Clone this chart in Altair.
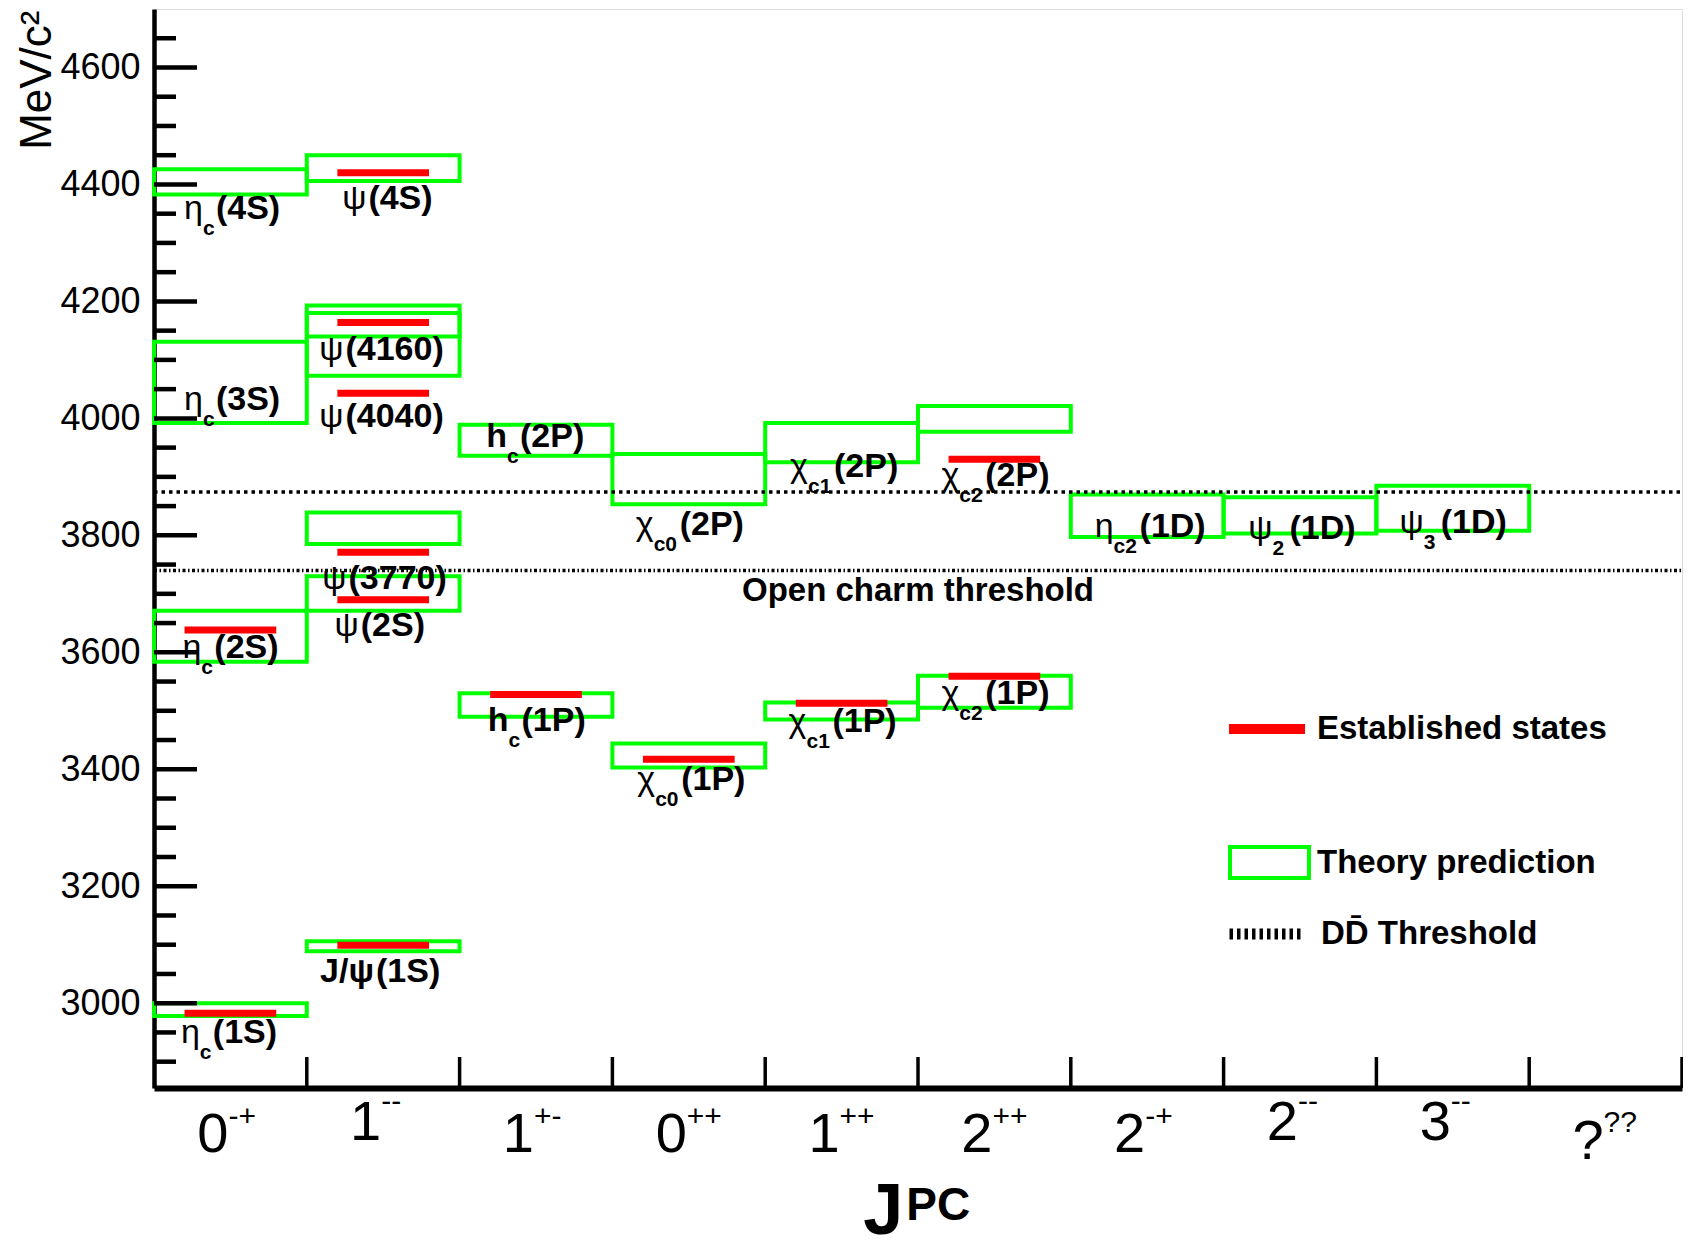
import altair as alt
import pandas as pd

# ---------------- data ----------------
# J^PC columns (main character and superscript)
JPC_MAIN = ["0", "1", "1", "0", "1", "2", "2", "2", "3", "?"]
JPC_SUP = ["-+", "--", "+-", "++", "++", "++", "-+", "--", "--", "??"]
JPC_STYLE = [0, 1, 0, 0, 0, 0, 0, 1, 1, 2]   # 0 normal, 1 raised, 2 question mark

# theory prediction boxes (column index, lower edge, upper edge in MeV/c^2)
TH_BIN = [0, 0, 0, 0, 1, 1, 1, 1, 1, 1, 2, 2, 3, 3, 4, 4, 5, 5, 6, 7, 8]
TH_LO = [2978, 3584, 3992, 4383, 3089, 3671, 3785, 4073, 4140, 4406,
         3490, 3936, 3403, 3853, 3485, 3925, 3505, 3977, 3797, 3803, 3808]
TH_HI = [3000, 3671, 4131, 4426, 3106, 3730, 3839, 4180, 4193, 4450,
         3530, 3989, 3444, 3939, 3514, 3992, 3560, 4021, 3870, 3865, 3885]

# established states (column index, mass)
EST_BIN = [0, 0, 1, 1, 1, 1, 1, 1, 2, 3, 4, 5, 5]
EST_MASS = [2983, 3638, 3099, 3690, 3771, 4043, 4164, 4420, 3528, 3417, 3513, 3559, 3930]

# thresholds
TH_MASS = [3874, 3740]
TH_KIND = ["DD\u0304 Threshold", "Open charm threshold"]

# state labels: prefix, subscript, suffix, column, mass of label
LB_PRE = ["η", "η", "η", "η", "J/ψ", "ψ", "ψ", "ψ", "ψ", "ψ", "h", "h",
          "χ", "χ", "χ", "χ", "χ", "χ", "η", "ψ", "ψ"]
LB_SUB = ["c", "c", "c", "c", "", "", "", "", "", "", "c", "c",
          "c0", "c0", "c1", "c1", "c2", "c2", "c2", "2", "3"]
LB_SUF = ["(1S)", "(2S)", "(3S)", "(4S)", "(1S)", "(2S)", "(3770)", "(4040)", "(4160)", "(4S)",
          "(1P)", "(2P)", "(1P)", "(2P)", "(1P)", "(2P)", "(1P)", "(2P)", "(1D)", "(1D)", "(1D)"]
LB_BIN = [0, 0, 0, 0, 1, 1, 1, 1, 1, 1, 2, 2, 3, 3, 4, 4, 5, 5, 6, 7, 8]
LB_MASS = [2949, 3607, 4031, 4358, 3053, 3645, 3725, 4003, 4117, 4375,
           3483, 3969, 3382, 3817, 3480, 3917, 3529, 3902, 3814, 3811, 3821]
LB_FRAC = [0.30, 0.31, 0.32, 0.32, 0.44, 0.34, 0.26, 0.24, 0.24, 0.39,
           0.32, 0.31, 0.28, 0.27, 0.27, 0.28, 0.27, 0.27, 0.28, 0.32, 0.31]

# ---------------- layout / style ----------------
W, H = 1528, 1079
BIN_PX = W / 10.0
FN = "Liberation Sans, Arial, sans-serif"
GREEN = "#00ff00"
RED = "#ff0000"
SUBW = {"": 2, "c": 13, "c0": 26, "c1": 26, "c2": 26, "2": 17, "3": 17}

xs = alt.Scale(domain=[0, 10], nice=False, zero=False)
ys = alt.Scale(domain=[2855, 4700], nice=False, zero=False)

theory = pd.DataFrame({"b0": TH_BIN, "lo": TH_LO, "hi": TH_HI})
theory["b1"] = theory["b0"] + 1
theory["kind"] = "Theory prediction"

est = pd.DataFrame({"b": EST_BIN, "m": EST_MASS})
est["x0"] = est["b"] + 0.2
est["x1"] = est["b"] + 0.8
est["kind"] = "Established states"

thr = pd.DataFrame({"m": TH_MASS, "kind": TH_KIND, "x0": 0, "x1": 10})

lab = pd.DataFrame({"pre": LB_PRE, "sub": LB_SUB, "suf": LB_SUF, "m": LB_MASS})
lab["xa"] = [b + f for b, f in zip(LB_BIN, LB_FRAC)]
lab["xs"] = [x + SUBW[s] / BIN_PX for x, s in zip(lab["xa"], LB_SUB)]
lab["boldpre"] = [p in ("h", "J/ψ") for p in LB_PRE]

jpc = pd.DataFrame({"main": JPC_MAIN, "sup": JPC_SUP, "style": JPC_STYLE})
jpc["x"] = [i + 0.5 for i in range(10)]

yt = pd.DataFrame({"v": list(range(2900, 4651, 50))})
yt["major"] = yt["v"] % 200 == 0
xt = pd.DataFrame({"v": list(range(1, 11))})

X = lambda f: alt.X(f, scale=xs, axis=alt.Axis(labels=False, ticks=False, grid=False, domainWidth=6,
                                              domainColor="black", title=None))
Y = lambda f: alt.Y(f, scale=ys, axis=alt.Axis(values=list(range(3000, 4601, 200)), format="d",
                                              ticks=False, grid=False,
                                              domainWidth=4.5, domainColor="black", labelFont=FN,
                                              labelFontSize=36, labelPadding=14, labelColor="black",
                                              labelOverlap=False,
                                              title="MeV/c²", titleFont=FN, titleFontSize=44,
                                              titleFontWeight="normal", titleAngle=270, titleX=-104,
                                              titleY=1, titleAlign="right", titleBaseline="alphabetic",
                                              titleColor="black"))

LEG = dict(orient="none", title=None, labelFont=FN, labelFontSize=33, labelFontWeight="bold",
           labelColor="black", labelLimit=500, padding=0)

boxes = alt.Chart(theory).mark_rect(filled=False, strokeWidth=4).encode(
    x=X("b0:Q"), x2="b1:Q", y=Y("lo:Q"), y2="hi:Q",
    color=alt.Color("kind:N", scale=alt.Scale(domain=["Theory prediction"], range=[GREEN]),
                    legend=alt.Legend(legendX=1074, legendY=812,
                                      symbolType="M-1,-0.39L1,-0.39L1,0.39L-1,0.39Z",
                                      symbolSize=6241, symbolStrokeWidth=4,
                                      symbolFillColor="transparent", labelOffset=6, **LEG)),
)

reds = alt.Chart(est).mark_rule(strokeWidth=7, strokeCap="butt").encode(
    x=X("x0:Q"), x2="x1:Q", y=Y("m:Q"),
    color=alt.Color("kind:N", scale=alt.Scale(domain=["Established states"], range=[RED]),
                    legend=alt.Legend(legendX=1070, legendY=677,
                                      symbolType="stroke", symbolSize=5776, symbolStrokeWidth=10,
                                      labelOffset=7, **LEG)),
)

thresh = alt.Chart(thr).mark_rule(strokeWidth=3.5, color="black", strokeCap="butt").encode(
    x=X("x0:Q"), x2="x1:Q", y=Y("m:Q"),
    strokeDash=alt.StrokeDash("kind:N", scale=alt.Scale(domain=TH_KIND, range=[[3.5, 4], [3, 2.5, 1.5, 2.5]]),
                              legend=alt.Legend(legendX=1070, legendY=883,
                                                values=[TH_KIND[0]], symbolType="stroke", symbolSize=5329,
                                                symbolStrokeWidth=11, symbolStrokeColor="black",
                                                symbolDash=[4.5, 5.8], labelOffset=13, **LEG)),
)

ytick_major = alt.Chart(yt).transform_filter("datum.major").mark_rule(strokeWidth=4.5, color="black").encode(
    y=Y("v:Q"), x=alt.value(0), x2=alt.value(43))
ytick_minor = alt.Chart(yt).transform_filter("!datum.major").mark_rule(strokeWidth=4.5, color="black").encode(
    y=Y("v:Q"), x=alt.value(0), x2=alt.value(22))
xtick = alt.Chart(xt).mark_rule(strokeWidth=3.5, color="black").encode(
    x=X("v:Q"), y=alt.value(H), y2=alt.value(H - 31))

pre_n = alt.Chart(lab).transform_filter("!datum.boldpre").mark_text(
    align="right", baseline="middle", font=FN, fontSize=34, color="black").encode(
    x=X("xa:Q"), y=Y("m:Q"), text="pre:N")
pre_b = alt.Chart(lab).transform_filter("datum.boldpre").mark_text(
    align="right", baseline="middle", font=FN, fontSize=34, fontWeight="bold", color="black").encode(
    x=X("xa:Q"), y=Y("m:Q"), text="pre:N")
subs = alt.Chart(lab).mark_text(
    align="left", baseline="middle", font=FN, fontSize=21, fontWeight="bold", color="black", dy=20).encode(
    x=X("xa:Q"), y=Y("m:Q"), text="sub:N")
sufs = alt.Chart(lab).mark_text(
    align="left", baseline="middle", font=FN, fontSize=34, fontWeight="bold", color="black").encode(
    x=X("xs:Q"), y=Y("m:Q"), text="suf:N")

open_lbl = alt.Chart(pd.DataFrame({"x": [5.0], "m": [3705], "t": ["Open charm threshold"]})).mark_text(
    align="center", baseline="middle", font=FN, fontSize=33, fontWeight="bold", color="black").encode(
    x=X("x:Q"), y=Y("m:Q"), text="t:N")

MAIN_OFF = {0: 47, 1: 35, 2: 54}
SUP_OFF = {0: 29, 1: 14, 2: 35}
jpc_layers = []
for st in (0, 1, 2):
    base = alt.Chart(jpc).transform_filter(f"datum.style == {st}")
    jpc_layers.append(base.mark_text(align="right", baseline="middle", font=FN, fontSize=56,
                                     color="black", dx=-2).encode(
        x=X("x:Q"), y=alt.value(H + MAIN_OFF[st]), text="main:N"))
    jpc_layers.append(base.mark_text(align="left", baseline="middle", font=FN, fontSize=30,
                                     color="black", dx=-2).encode(
        x=X("x:Q"), y=alt.value(H + SUP_OFF[st]), text="sup:N"))

ttl = pd.DataFrame({"x": [4.91], "j": ["J"], "pc": ["PC"]})
t_j = alt.Chart(ttl).mark_text(align="right", baseline="alphabetic", font=FN, fontSize=72,
                               fontWeight="bold", color="black", dx=-1).encode(
    x=X("x:Q"), y=alt.value(H + 146), text="j:N")
t_pc = alt.Chart(ttl).mark_text(align="left", baseline="alphabetic", font=FN, fontSize=46,
                                fontWeight="bold", color="black", dx=2).encode(
    x=X("x:Q"), y=alt.value(H + 132), text="pc:N")

chart = alt.layer(
    boxes, reds, thresh, ytick_major, ytick_minor, xtick,
    pre_n, pre_b, subs, sufs, open_lbl, *jpc_layers, t_j, t_pc
).resolve_scale(color="independent").properties(
    width=W, height=H,
    autosize=alt.AutoSizeParams(type="none"),
    padding={"left": 146, "top": 1, "right": 1, "bottom": 162},
).configure_view(stroke="black", strokeWidth=1.5).configure(background="white")

chart.save("out.html", embed_options={"renderer": "svg", "actions": False})
